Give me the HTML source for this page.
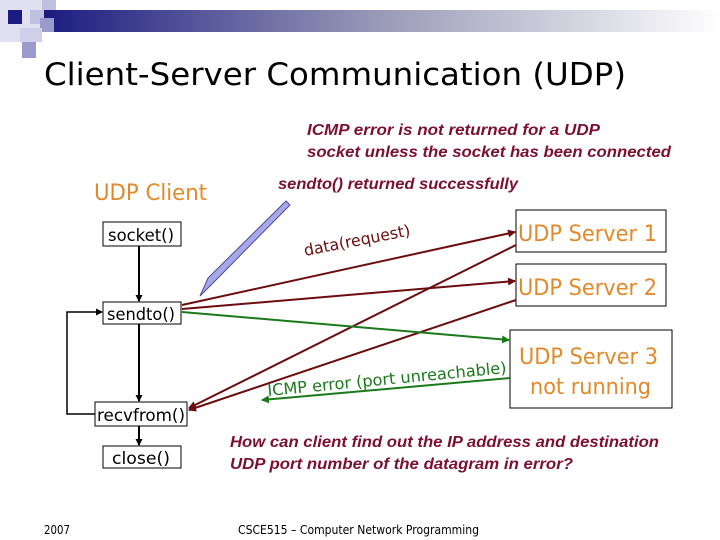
<!DOCTYPE html>
<html><head><style>
body{margin:0;width:720px;height:540px;overflow:hidden;background:#fff}
svg{display:block}
text{font-family:"DejaVu Sans","Liberation Sans",sans-serif}
.it{font-family:"Liberation Sans",sans-serif;font-style:italic;font-weight:bold;fill:#7b1030;font-size:16px}
</style></head><body>
<svg width="720" height="540" viewBox="0 0 720 540" xmlns="http://www.w3.org/2000/svg">
<defs>
<linearGradient id="g" x1="0" x2="1"><stop offset="0" stop-color="#1a1a80"/><stop offset="0.5" stop-color="#9a9ab8"/><stop offset="1" stop-color="#fff"/></linearGradient>
<marker id="ar" markerWidth="8" markerHeight="8" refX="7" refY="4" orient="auto" markerUnits="userSpaceOnUse"><path d="M0,0 L8,4 L0,8z" fill="#6b0d0d"/></marker>
<marker id="ag" markerWidth="8" markerHeight="8" refX="7" refY="4" orient="auto" markerUnits="userSpaceOnUse"><path d="M0,0 L8,4 L0,8z" fill="#1a7a1a"/></marker>
<marker id="ab" markerWidth="7" markerHeight="7" refX="6" refY="3.5" orient="auto" markerUnits="userSpaceOnUse"><path d="M0,0 L7,3.5 L0,7z" fill="#000"/></marker>
</defs>
<rect x="40" y="10" width="680" height="22" fill="url(#g)"/>
<rect x="0" y="0" width="42" height="42" fill="#e0e0f0"/>
<rect x="8" y="10" width="14" height="14" fill="#1a1a80"/>
<rect x="30" y="10" width="14" height="14" fill="#c0c0e0"/>
<rect x="42" y="0" width="14" height="10" fill="#c0c0e0"/>
<rect x="40" y="18" width="14" height="14" fill="#9a9acc"/>
<rect x="20" y="28" width="22" height="14" fill="#d0d0ea"/>
<rect x="22" y="42" width="14" height="16" fill="#9a9acc"/>
<text x="44" y="85" font-size="31" fill="#000" textLength="582" lengthAdjust="spacingAndGlyphs">Client-Server Communication (UDP)</text>
<text class="it" x="307" y="135" textLength="293" lengthAdjust="spacingAndGlyphs">ICMP error is not returned for a UDP</text>
<text class="it" x="307" y="157" textLength="364" lengthAdjust="spacingAndGlyphs">socket unless the socket has been connected</text>
<text class="it" x="278" y="189" textLength="240" lengthAdjust="spacingAndGlyphs">sendto() returned successfully</text>
<text x="94" y="200" font-size="22" fill="#e08a2a" textLength="113" lengthAdjust="spacingAndGlyphs">UDP Client</text>
<g fill="#fff" stroke="#000" stroke-width="1">
<rect x="103" y="222" width="78" height="24"/>
<rect x="103" y="302" width="78" height="22"/>
<rect x="95" y="402" width="92" height="24"/>
<rect x="103" y="446" width="78" height="22"/>
<rect x="516" y="210" width="150" height="42"/>
<rect x="516" y="264" width="150" height="42"/>
<rect x="510" y="330" width="162" height="78"/>
</g>
<g font-size="17" fill="#000">
<text x="108" y="241" textLength="66" lengthAdjust="spacingAndGlyphs">socket()</text>
<text x="107" y="320" textLength="68" lengthAdjust="spacingAndGlyphs">sendto()</text>
<text x="97" y="421" textLength="88" lengthAdjust="spacingAndGlyphs">recvfrom()</text>
<text x="112" y="464" textLength="58" lengthAdjust="spacingAndGlyphs">close()</text>
</g>
<g font-size="22" fill="#e08a2a">
<text x="518" y="241" textLength="139" lengthAdjust="spacingAndGlyphs">UDP Server 1</text>
<text x="518" y="295" textLength="139" lengthAdjust="spacingAndGlyphs">UDP Server 2</text>
<text x="519" y="364" textLength="139" lengthAdjust="spacingAndGlyphs">UDP Server 3</text>
<text x="530" y="394" textLength="121" lengthAdjust="spacingAndGlyphs">not running</text>
</g>
<g stroke="#000" stroke-width="2" fill="none">
<line x1="139" y1="246" x2="139" y2="301" marker-end="url(#ab)"/>
<line x1="139" y1="324" x2="139" y2="401" marker-end="url(#ab)"/>
<line x1="139" y1="426" x2="139" y2="445" marker-end="url(#ab)"/>
<polyline points="95,414 67,414 67,312 102,312" marker-end="url(#ab)" stroke-width="1.5"/>
</g>
<g stroke="#6b0d0d" stroke-width="2" fill="none">
<line x1="182" y1="305" x2="515" y2="232" marker-end="url(#ar)"/>
<line x1="182" y1="309" x2="515" y2="281" marker-end="url(#ar)"/>
<line x1="516" y1="245" x2="189" y2="408" marker-end="url(#ar)"/>
<line x1="516" y1="300" x2="189" y2="410" marker-end="url(#ar)"/>
</g>
<g stroke="#1a7a1a" stroke-width="2" fill="none">
<line x1="182" y1="312" x2="509" y2="340" marker-end="url(#ag)"/>
<line x1="510" y1="378" x2="262" y2="400" marker-end="url(#ag)"/>
</g>
<polygon points="286,201 290,205 214,282 200,296 208,278" fill="#a8a8e8" stroke="#4a4a9a" stroke-width="1"/>
<text x="305" y="256" font-size="16" fill="#6b0d0d" transform="rotate(-11 305 256)" textLength="108" lengthAdjust="spacingAndGlyphs">data(request)</text>
<text x="268" y="396" font-size="16" fill="#1a7a1a" transform="rotate(-5.5 268 396)" textLength="240" lengthAdjust="spacingAndGlyphs">ICMP error (port unreachable)</text>
<text class="it" x="230" y="447" textLength="429" lengthAdjust="spacingAndGlyphs">How can client find out the IP address and destination</text>
<text class="it" x="230" y="469" textLength="343" lengthAdjust="spacingAndGlyphs">UDP port number of the datagram in error?</text>
<text x="44" y="534" font-size="12" fill="#000" font-family="Liberation Sans" textLength="26" lengthAdjust="spacingAndGlyphs">2007</text>
<text x="238" y="534" font-size="12" fill="#000" font-family="Liberation Sans" textLength="241" lengthAdjust="spacingAndGlyphs">CSCE515 – Computer Network Programming</text>
</svg>
</body></html>
